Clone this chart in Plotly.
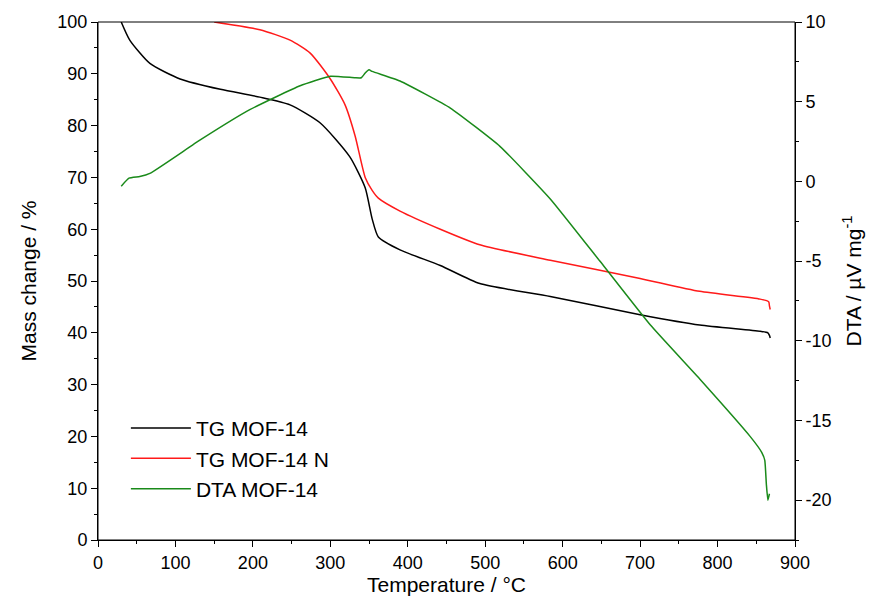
import plotly.graph_objects as go

# TG MOF-14 (mass change %)
tg_t = [30, 41, 67, 106, 158, 209, 248, 287, 325, 345, 354, 362, 390, 442, 493, 584, 700, 777, 855, 865, 867, 868]
tg_m = [100, 96.5, 92, 89, 87, 85.5, 84, 80.5, 74, 68, 62, 58.5, 56, 53, 49.5, 47, 43.5, 41.5, 40.3, 40, 39.5, 39]

# TG MOF-14 N
tgn_t = [150, 209, 248, 274, 300, 319, 332, 345, 354, 362, 390, 442, 493, 584, 700, 777, 855, 866, 867, 868]
tgn_m = [100, 98.5, 96.5, 94, 89, 84, 78, 70, 67.5, 66, 63.5, 60, 57, 54, 50.5, 48, 46.5, 46, 45.2, 44.5]

# DTA MOF-14 (µV/mg)
dta_t = [30, 40, 54, 67, 132, 196, 261, 300, 332, 340, 345, 350, 354, 390, 455, 519, 584, 648, 713, 777, 842, 857, 861, 863, 865, 867]
dta_v = [-0.3, 0.2, 0.3, 0.5, 2.6, 4.5, 6.0, 6.6, 6.5, 6.5, 6.8, 7.0, 6.9, 6.3, 4.6, 2.2, -1.1, -5.0, -9.0, -12.4, -16.0, -17.0, -17.5, -19.0, -20.0, -19.6]

fig = go.Figure()
fig.add_trace(go.Scatter(x=tg_t, y=tg_m, name="TG MOF-14", mode="lines",
                         line=dict(color="black", width=1.5, shape="spline", smoothing=0.6)))
fig.add_trace(go.Scatter(x=tgn_t, y=tgn_m, name="TG MOF-14 N", mode="lines",
                         line=dict(color="#ff1a1a", width=1.5, shape="spline", smoothing=0.6)))
fig.add_trace(go.Scatter(x=dta_t, y=dta_v, name="DTA MOF-14", mode="lines", yaxis="y2",
                         line=dict(color="#1a8a1a", width=1.5, shape="spline", smoothing=0.4)))

axis_common = dict(showgrid=False, zeroline=False, showline=True, linecolor="black", linewidth=1,
                   ticks="outside", ticklen=6, tickcolor="black", mirror=False, automargin=False,
                   tickfont=dict(size=18, color="black"))

fig.update_layout(
    width=888, height=615,
    plot_bgcolor="white", paper_bgcolor="white",
    font=dict(family="Liberation Sans, Arial", color="black"),
    margin=dict(l=90, r=101, t=14, b=83),
    xaxis=dict(range=[0, 900], dtick=100, title=dict(text="Temperature / °C", font=dict(size=21), standoff=4),
               minor=dict(ticks="outside", ticklen=3, dtick=50, tickcolor="black"), **axis_common),
    yaxis=dict(range=[0, 100], dtick=10, title=dict(text="Mass change / %", font=dict(size=21)),
               minor=dict(ticks="outside", ticklen=3, dtick=5, tickcolor="black"), **axis_common),
    yaxis2=dict(range=[-22.5, 10], tickvals=[-20, -15, -10, -5, 0, 5, 10],
                ticktext=["-20", "-15", "-10", "-5", "0", "5", "10"], overlaying="y", side="right",
                title=dict(text="DTA / µV mg<sup>-1</sup>", font=dict(size=21)),
                minor=dict(ticks="outside", ticklen=3, dtick=2.5, tickcolor="black"), **axis_common),
    legend=dict(x=0.04, y=0.06, xanchor="left", yanchor="bottom", bgcolor="rgba(0,0,0,0)",
                font=dict(size=21), itemwidth=60, tracegroupgap=0),
    showlegend=True,
)
fig.add_shape(type="rect", xref="paper", yref="paper", x0=0, y0=0, x1=1, y1=1,
              line=dict(color="black", width=1))
fig.write_html("out.html")
